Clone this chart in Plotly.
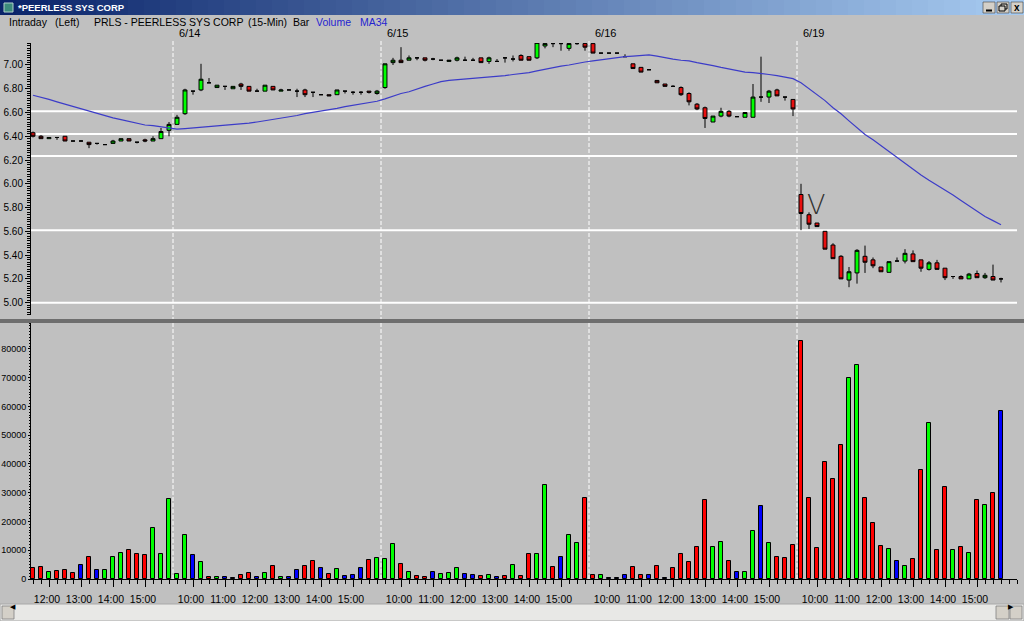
import plotly.graph_objects as go

# ---------------- data ----------------
bar_index = list(range(122))

opens = [6.43, 6.40, 6.38, 6.39, 6.40, 6.36, 6.36, 6.35, 6.34, 6.33,
         6.34, 6.36, 6.38, 6.35, 6.37, 6.36, 6.38, 6.45, 6.50, 6.59,
         6.78, 6.79, 6.85, 6.81, 6.82, 6.80, 6.84, 6.82, 6.78, 6.78,
         6.82, 6.78, 6.79, 6.78, 6.79, 6.77, 6.75, 6.75, 6.75, 6.78,
         6.77, 6.77, 6.78, 6.76, 6.81, 7.02, 7.04, 7.04, 7.06, 7.06,
         7.05, 7.04, 7.03, 7.04, 7.04, 7.04, 7.06, 7.03, 7.03, 7.06,
         7.05, 7.08, 7.07, 7.06, 7.16, 7.18, 7.18, 7.14, 7.18, 7.18,
         7.18, 7.10, 7.10, 7.10, 7.07, 7.01, 6.98, 6.96, 6.87, 6.84,
         6.82, 6.81, 6.76, 6.67, 6.64, 6.52, 6.57, 6.61, 6.565, 6.56,
         6.56, 6.73, 6.73, 6.79, 6.73, 6.71, 5.91, 5.74, 5.67, 5.60,
         5.485, 5.39, 5.19, 5.25, 5.39, 5.36, 5.30, 5.255, 5.35, 5.35,
         5.41, 5.36, 5.28, 5.335, 5.29, 5.22, 5.22, 5.20, 5.245, 5.21,
         5.22, 5.20]
highs = [6.44, 6.41, 6.39, 6.39, 6.40, 6.36, 6.365, 6.35, 6.34, 6.33,
         6.37, 6.38, 6.38, 6.35, 6.38, 6.40, 6.47, 6.52, 6.58, 6.80,
         6.78, 7.01, 6.89, 6.83, 6.82, 6.82, 6.85, 6.82, 6.80, 6.83,
         6.82, 6.80, 6.79, 6.80, 6.80, 6.77, 6.75, 6.75, 6.79, 6.78,
         6.78, 6.78, 6.78, 6.79, 7.01, 7.06, 7.15, 7.08, 7.06, 7.06,
         7.06, 7.04, 7.04, 7.07, 7.07, 7.06, 7.06, 7.07, 7.05, 7.06,
         7.08, 7.09, 7.07, 7.19, 7.18, 7.18, 7.18, 7.19, 7.18, 7.18,
         7.18, 7.10, 7.10, 7.10, 7.09, 7.01, 6.98, 6.96, 6.87, 6.84,
         6.83, 6.82, 6.77, 6.68, 6.65, 6.57, 6.64, 6.62, 6.565, 6.60,
         6.84, 7.07, 6.79, 6.80, 6.73, 6.71, 6.00, 5.76, 5.67, 5.60,
         5.50, 5.40, 5.30, 5.45, 5.48, 5.38, 5.30, 5.345, 5.38, 5.45,
         5.44, 5.36, 5.35, 5.36, 5.29, 5.22, 5.23, 5.25, 5.27, 5.25,
         5.32, 5.21]
lows = [6.39, 6.38, 6.38, 6.37, 6.36, 6.36, 6.36, 6.30, 6.33, 6.33,
        6.34, 6.36, 6.36, 6.34, 6.35, 6.36, 6.38, 6.40, 6.50, 6.58,
        6.75, 6.78, 6.85, 6.81, 6.79, 6.80, 6.79, 6.78, 6.78, 6.78,
        6.79, 6.78, 6.79, 6.73, 6.73, 6.73, 6.75, 6.74, 6.75, 6.76,
        6.75, 6.75, 6.76, 6.75, 6.80, 7.00, 7.02, 7.04, 7.04, 7.03,
        7.04, 7.04, 7.03, 7.03, 7.04, 7.04, 7.02, 7.01, 7.03, 7.02,
        7.03, 7.04, 7.04, 7.05, 7.14, 7.15, 7.12, 7.12, 7.17, 7.12,
        7.10, 7.10, 7.10, 7.10, 7.07, 6.97, 6.94, 6.96, 6.85, 6.82,
        6.82, 6.74, 6.66, 6.62, 6.47, 6.52, 6.56, 6.56, 6.565, 6.56,
        6.56, 6.69, 6.68, 6.74, 6.70, 6.57, 5.61, 5.62, 5.64, 5.45,
        5.37, 5.20, 5.13, 5.16, 5.25, 5.29, 5.26, 5.255, 5.35, 5.33,
        5.345, 5.26, 5.27, 5.28, 5.19, 5.20, 5.20, 5.20, 5.21, 5.20,
        5.19, 5.17]
closes = [6.40, 6.38, 6.39, 6.39, 6.36, 6.36, 6.36, 6.33, 6.34, 6.33,
          6.36, 6.38, 6.36, 6.35, 6.36, 6.38, 6.44, 6.50, 6.56, 6.79,
          6.78, 6.88, 6.85, 6.83, 6.82, 6.82, 6.82, 6.78, 6.78, 6.83,
          6.79, 6.79, 6.79, 6.78, 6.75, 6.77, 6.75, 6.74, 6.79, 6.78,
          6.77, 6.77, 6.77, 6.78, 7.01, 7.04, 7.02, 7.06, 7.06, 7.04,
          7.05, 7.04, 7.04, 7.06, 7.04, 7.04, 7.02, 7.06, 7.03, 7.06,
          7.05, 7.04, 7.04, 7.19, 7.18, 7.18, 7.18, 7.18, 7.18, 7.15,
          7.10, 7.10, 7.10, 7.10, 7.07, 6.97, 6.94, 6.96, 6.85, 6.82,
          6.82, 6.75, 6.69, 6.63, 6.55, 6.57, 6.61, 6.57, 6.565, 6.60,
          6.73, 6.73, 6.78, 6.74, 6.73, 6.63, 5.75, 5.66, 5.64, 5.45,
          5.37, 5.20, 5.26, 5.44, 5.34, 5.31, 5.26, 5.345, 5.35, 5.415,
          5.345, 5.29, 5.335, 5.28, 5.21, 5.22, 5.20, 5.24, 5.21, 5.23,
          5.19, 5.20]
ma34 = [6.745, 6.73, 6.71, 6.69, 6.67, 6.65, 6.63, 6.61, 6.59, 6.57,
        6.555, 6.54, 6.525, 6.51, 6.495, 6.49, 6.48, 6.47, 6.46, 6.465,
        6.47, 6.475, 6.48, 6.485, 6.495, 6.50, 6.505, 6.51, 6.52, 6.53,
        6.54, 6.55, 6.565, 6.575, 6.59, 6.60, 6.61, 6.62, 6.635, 6.65,
        6.66, 6.675, 6.685, 6.695, 6.715, 6.74, 6.76, 6.775, 6.80, 6.82,
        6.84, 6.86, 6.87, 6.875, 6.88, 6.89, 6.895, 6.90, 6.905, 6.91,
        6.92, 6.925, 6.935, 6.95, 6.965, 6.98, 6.99, 7.00, 7.015, 7.025,
        7.035, 7.045, 7.055, 7.06, 7.07, 7.075, 7.08, 7.085, 7.075, 7.06,
        7.05, 7.04, 7.035, 7.02, 7.01, 6.995, 6.98, 6.965, 6.95, 6.94,
        6.935, 6.93, 6.92, 6.91, 6.90, 6.885, 6.85, 6.80, 6.75, 6.70,
        6.64, 6.59, 6.53, 6.47, 6.415, 6.37, 6.32, 6.275, 6.22, 6.17,
        6.12, 6.075, 6.03, 5.99, 5.945, 5.905, 5.86, 5.815, 5.77, 5.725,
        5.69, 5.655]
volume = [3800, 4200, 2400, 2800, 3000, 2100, 5000, 7500, 3000, 3000,
          7650, 9000, 10200, 8800, 8300, 17700, 8700, 27800, 1800, 15300,
          8200, 6000, 700, 700, 700, 500, 1500, 2100, 700, 2100,
          4600, 700, 700, 3200, 4600, 6200, 3800, 1800, 3500, 900,
          1500, 3800, 6700, 7200, 7000, 12200, 5200, 2400, 1000, 700,
          2600, 1600, 2100, 3800, 1800, 1500, 1000, 1300, 700, 1000,
          4900, 1000, 8800, 8800, 32800, 4300, 7650, 15300, 12500, 28300,
          1500, 1300, 500, 300, 1300, 4200, 1300, 1500, 4400, 500,
          3900, 8800, 5800, 11100, 27600, 11100, 12700, 6400, 2600, 2400,
          16700, 25300, 12400, 7650, 7200, 11800, 82900, 28000, 10800, 40600,
          34800, 46500, 69900, 74500, 28300, 19500, 11600, 10400, 6300, 4600,
          6950, 37800, 54300, 10200, 32000, 10200, 11100, 9000, 27600, 25700,
          29800, 58500]
vol_dir = list("rrgrrrbrbg" "ggrrrggggg" "bgrgbbrrbg" "rgbbrrbrgb"
               "bbrgggrgrr" "bgggbbrgbr" "grrggrbggr" "rgbbbrrbrb"
               "rrrrrggrbg" "gbgrrrrrrr" "rrggrrrgbg" "rrgrrgrgrg" "rb")

hour_ticks = [2, 6, 10, 14,
              20, 24, 28, 32, 36, 40,
              46, 50, 54, 58, 62, 66,
              72, 76, 80, 84, 88, 92,
              98, 102, 106, 110, 114, 118]
hour_labels = ["12:00", "13:00", "14:00", "15:00",
               "10:00", "11:00", "12:00", "13:00", "14:00", "15:00",
               "10:00", "11:00", "12:00", "13:00", "14:00", "15:00",
               "10:00", "11:00", "12:00", "13:00", "14:00", "15:00",
               "10:00", "11:00", "12:00", "13:00", "14:00", "15:00"]
day_starts = [18, 44, 70, 96]
day_labels = ["6/14", "6/15", "6/16", "6/19"]
level_lines = [6.61, 6.42, 6.235, 5.61, 5.00]
mark_bar, mark_price = 97.9, 5.83

# ---------------- geometry helpers ----------------
FIG_W, FIG_H = 1024, 621
ML, MR, MT, MB = 31, 7, 43, 42
PW = FIG_W - ML - MR
PH = FIG_H - MT - MB


def px(x):
    return (x - ML) / PW


def py(y):
    return 1 - (y - MT) / PH


FONT = "Liberation Sans, Arial, sans-serif"
VCOL = {"r": "#FF0000", "g": "#00FF00", "b": "#0000FF"}

highs = [max(h, o, c) for h, o, c in zip(highs, opens, closes)]
lows = [min(l, o, c) for l, o, c in zip(lows, opens, closes)]

fig = go.Figure()
fig.add_trace(go.Candlestick(
    x=bar_index, open=opens, high=highs, low=lows, close=closes,
    increasing=dict(fillcolor="#00FF00", line=dict(color="black", width=1)),
    decreasing=dict(fillcolor="#E81010", line=dict(color="black", width=1)),
    whiskerwidth=0, xaxis="x", yaxis="y", showlegend=False, hoverinfo="skip"))
fig.add_trace(go.Scatter(
    x=bar_index, y=ma34, mode="lines", line=dict(color="#3C3CC8", width=1.2),
    xaxis="x", yaxis="y", showlegend=False, hoverinfo="skip"))
fig.add_trace(go.Bar(
    x=bar_index, y=volume, width=0.62,
    marker=dict(color=[VCOL[d] for d in vol_dir], line=dict(color="black", width=1)),
    xaxis="x", yaxis="y2", showlegend=False, hoverinfo="skip"))

shapes = []
for v in level_lines:
    shapes.append(dict(type="line", xref="paper", yref="y", x0=0, x1=1, y0=v, y1=v,
                       line=dict(color="white", width=2), layer="below"))
for d in day_starts:
    shapes.append(dict(type="line", xref="x", yref="paper", x0=d - 0.5, x1=d - 0.5,
                       y0=py(579), y1=py(39),
                       line=dict(color="white", width=1, dash="4px,2px"), layer="below"))
shapes.append(dict(type="rect", xref="paper", yref="paper", x0=px(0), x1=px(1024),
                   y0=py(323), y1=py(319), fillcolor="#6E6E6E", line=dict(width=0)))
n = 64
c0, c1 = (10, 36, 106), (166, 202, 240)
for k in range(n):
    t = k / (n - 1)
    col = "rgb(%d,%d,%d)" % tuple(round(a + (b - a) * t) for a, b in zip(c0, c1))
    shapes.append(dict(type="rect", xref="paper", yref="paper",
                       x0=px(k * FIG_W / n), x1=px((k + 1) * FIG_W / n + 0.6),
                       y0=py(15), y1=py(0), fillcolor=col, line=dict(width=0)))
shapes.append(dict(type="rect", xref="paper", yref="paper", x0=px(4), x1=px(13),
                   y0=py(12), y1=py(3), fillcolor="#3C8C7C", line=dict(color="#B0D0C8", width=1)))
for bx in (983, 997, 1011):
    shapes.append(dict(type="rect", xref="paper", yref="paper", x0=px(bx), x1=px(bx + 12),
                       y0=py(13), y1=py(2), fillcolor="#D4D0C8", line=dict(color="#404040", width=0.6)))
shapes.append(dict(type="line", xref="paper", yref="paper", x0=px(986), x1=px(992),
                   y0=py(10.5), y1=py(10.5), line=dict(color="black", width=2)))
shapes.append(dict(type="rect", xref="paper", yref="paper", x0=px(1001), x1=px(1007),
                   y0=py(9), y1=py(4), line=dict(color="black", width=1)))
shapes.append(dict(type="rect", xref="paper", yref="paper", x0=px(999), x1=px(1005),
                   y0=py(11), y1=py(6), fillcolor="#D4D0C8", line=dict(color="black", width=1)))
shapes.append(dict(type="rect", xref="paper", yref="paper", x0=px(0), x1=px(1024),
                   y0=py(621), y1=py(604), fillcolor="#E8E8E6", line=dict(color="#A8A8A8", width=1)))
for bx0, bx1 in ((2, 14), (996, 1009), (1010, 1022)):
    shapes.append(dict(type="rect", xref="paper", yref="paper", x0=px(bx0), x1=px(bx1),
                       y0=py(619), y1=py(606), fillcolor="#D4D0C8", line=dict(color="#808080", width=0.8)))

annotations = []
annotations.append(dict(xref="paper", yref="paper", x=px(16), y=py(7.5), xanchor="left", yanchor="middle",
                        text="<b>*PEERLESS SYS CORP</b>", showarrow=False,
                        font=dict(family=FONT, size=9.5, color="white")))
annotations.append(dict(xref="paper", yref="paper", x=px(1017), y=py(7.5), xanchor="center", yanchor="middle",
                        text="<b>x</b>", showarrow=False, font=dict(family=FONT, size=10, color="black")))
header = [("Intraday", 7, "black"), ("(Left)", 53, "black"),
          ("PRLS - PEERLESS SYS CORP", 92, "black"), ("(15-Min)", 246, "black"),
          ("Bar", 291, "black"), ("Volume", 314, "#2424D0"), ("MA34", 358, "#2424D0")]
for txt, x0, col in header:
    annotations.append(dict(xref="paper", yref="paper", x=px(x0), y=py(22.5), xanchor="left",
                            yanchor="middle", text=txt, showarrow=False,
                            font=dict(family=FONT, size=10.5, color=col)))
for d, lab in zip(day_starts, day_labels):
    annotations.append(dict(xref="x", yref="paper", x=d + 1.5, y=py(33), xanchor="center",
                            yanchor="middle", text=lab, showarrow=False,
                            font=dict(family=FONT, size=11, color="black")))
annotations.append(dict(xref="x", yref="y", x=mark_bar, y=mark_price, text="V", showarrow=False,
                        xanchor="center", yanchor="middle",
                        font=dict(family="DejaVu Sans", size=27, color="#303030", weight=200)))
annotations.append(dict(xref="paper", yref="paper", x=px(8), y=py(612.5), text="◀", showarrow=False,
                        font=dict(size=7, color="black")))
annotations.append(dict(xref="paper", yref="paper", x=px(1016), y=py(612.5), text="▶", showarrow=False,
                        font=dict(size=7, color="black")))

axis_common = dict(showline=True, linecolor="black", linewidth=1, showgrid=False, zeroline=False,
                   automargin=False, ticks="outside", tickcolor="black")

fig.update_layout(
    width=FIG_W, height=FIG_H,
    margin=dict(l=ML, r=MR, t=MT, b=MB, autoexpand=False),
    paper_bgcolor="#C0C0C0", plot_bgcolor="#C0C0C0",
    showlegend=False, bargap=0,
    xaxis=dict(domain=[0, 1], range=[-0.25, 123], anchor="y2",
               tickmode="array", tickvals=hour_ticks, ticktext=hour_labels,
               ticklen=7, ticklabelshift=-2, ticklabelstandoff=3,
               tickfont=dict(family=FONT, size=10.5, color="black"),
               minor=dict(dtick=1, tick0=0, ticklen=4, ticks="outside", tickcolor="black"),
               rangeslider=dict(visible=False), **axis_common),
    yaxis=dict(domain=[py(315), 1], range=[4.896, 7.185], anchor="x",
               dtick=0.2, tick0=5.0, tickformat=".2f", ticklen=5,
               tickfont=dict(family=FONT, size=10, color="black"),
               minor=dict(dtick=0.02, tick0=5.0, ticklen=3, ticks="outside", tickcolor="black"),
               **axis_common),
    yaxis2=dict(domain=[0, py(323)], range=[0, 89000], anchor="x",
                dtick=10000, tick0=0, tickformat="d", ticklen=2,
                tickfont=dict(family=FONT, size=9, color="black"),
                minor=dict(dtick=1000, tick0=0, ticklen=1.5, ticks="outside", tickcolor="black"),
                **axis_common),
    shapes=shapes, annotations=annotations,
)

fig.write_html(
    "out.html",
    config={"displayModeBar": False},
    post_script="document.body.style.margin='0';document.body.style.overflow='hidden';",
)
